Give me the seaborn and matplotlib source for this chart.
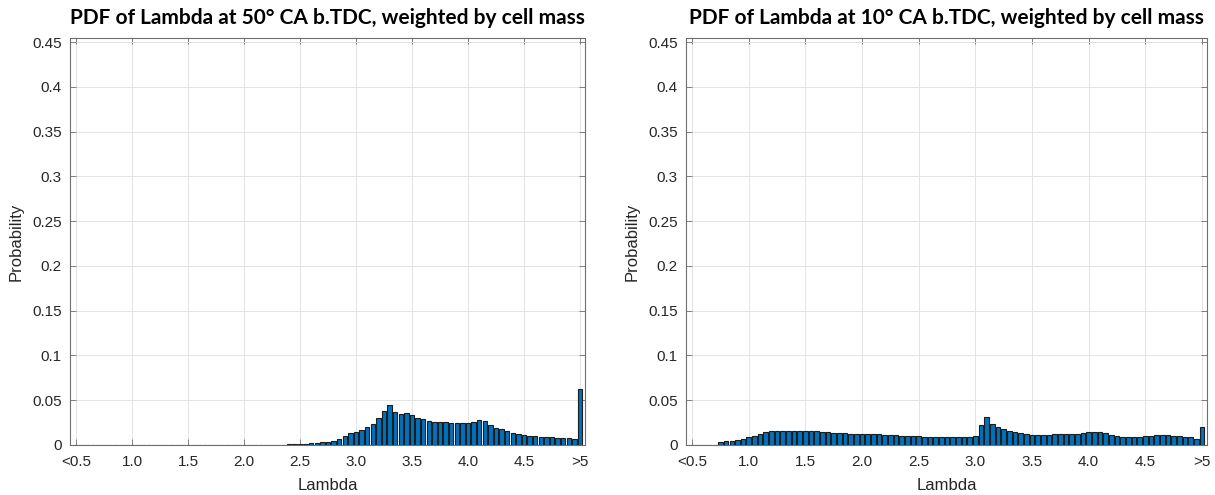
import numpy as np
import pandas as pd
import matplotlib
matplotlib.use("Agg")
import matplotlib.pyplot as plt
import seaborn as sns

# ---------------- data ----------------
lambda_bins = np.round(np.arange(0.5, 5.0001, 0.05), 2)   # bin centres, 0.5 = "<0.5", 5.0 = ">5"

prob_50 = [
    0.0,
    0.0001, 0.0001, 0.0001, 0.0001, 0.0001, 0.0001, 0.0001, 0.0001, 0.0001, 0.0001,
    0.0001, 0.0001, 0.0001, 0.0001, 0.0001, 0.0001, 0.0001, 0.0001, 0.0001, 0.0001,
    0.0001, 0.0001, 0.0001, 0.0001, 0.0001, 0.0001, 0.0001, 0.0001, 0.0001, 0.0001,
    0.0002, 0.0002, 0.0003, 0.0003, 0.0004, 0.0005, 0.0005, 0.0006, 0.0007, 0.0008,
    0.0012, 0.0018, 0.0024, 0.0030, 0.0038, 0.0050, 0.0068, 0.0105, 0.0130, 0.0150,
    0.0170, 0.0196, 0.0240, 0.0297, 0.0376, 0.0450, 0.0365, 0.0350, 0.0360, 0.0330,
    0.0305, 0.0285, 0.0265, 0.0255, 0.0253, 0.0252, 0.0245, 0.0244, 0.0244, 0.0248,
    0.0260, 0.0278, 0.0265, 0.0228, 0.0195, 0.0175, 0.0152, 0.0135, 0.0124, 0.0115,
    0.0105, 0.0098, 0.0092, 0.0088, 0.0085, 0.0079, 0.0076, 0.0073, 0.0070, 0.0620,
]

prob_10 = [
    0.0,
    0.0000, 0.0001, 0.0002, 0.0005, 0.0030, 0.0041, 0.0048, 0.0053, 0.0067, 0.0085,
    0.0104, 0.0122, 0.0140, 0.0151, 0.0156, 0.0157, 0.0158, 0.0158, 0.0158, 0.0157,
    0.0155, 0.0152, 0.0147, 0.0142, 0.0137, 0.0133, 0.0130, 0.0127, 0.0125, 0.0123,
    0.0122, 0.0120, 0.0118, 0.0115, 0.0111, 0.0108, 0.0105, 0.0103, 0.0100, 0.0095,
    0.0092, 0.0090, 0.0089, 0.0088, 0.0087, 0.0087, 0.0086, 0.0086, 0.0088, 0.0104,
    0.0218, 0.0310, 0.0232, 0.0197, 0.0175, 0.0154, 0.0140, 0.0129, 0.0118, 0.0112,
    0.0111, 0.0114, 0.0117, 0.0118, 0.0118, 0.0118, 0.0119, 0.0122, 0.0130, 0.0140,
    0.0143, 0.0143, 0.0132, 0.0115, 0.0100, 0.0094, 0.0093, 0.0093, 0.0093, 0.0097,
    0.0101, 0.0108, 0.0115, 0.0108, 0.0101, 0.0099, 0.0093, 0.0087, 0.0066, 0.0200,
]

titles = ["PDF of Lambda at 50° CA b.TDC, weighted by cell mass",
          "PDF of Lambda at 10° CA b.TDC, weighted by cell mass"]
x_ticks = [0.5, 1.0, 1.5, 2.0, 2.5, 3.0, 3.5, 4.0, 4.5, 5.0]
x_tick_labels = ["<0.5", "1.0", "1.5", "2.0", "2.5", "3.0", "3.5", "4.0", "4.5", ">5"]
y_ticks = [0, 0.05, 0.1, 0.15, 0.2, 0.25, 0.3, 0.35, 0.4, 0.45]
y_tick_labels = ["0", "0.05", "0.1", "0.15", "0.2", "0.25", "0.3", "0.35", "0.4", "0.45"]

# ---------------- style ----------------
sns.set_theme(style="whitegrid")
plt.rcParams["font.family"] = ["Liberation Sans", "DejaVu Sans"]

BAR = "#0072BD"
EDGE = "#1c1c1c"
AXC = "#262626"

fig = plt.figure(figsize=(12.15, 4.95), dpi=100)
W, H = 1215, 495
top, bottom = 38, 445
ax1 = fig.add_axes([70 / W, (H - bottom) / H, 515 / W, (bottom - top) / H])
ax2 = fig.add_axes([686 / W, (H - bottom) / H, 521 / W, (bottom - top) / H])

for ax, vals, title in [(ax1, prob_50, titles[0]), (ax2, prob_10, titles[1])]:
    df = pd.DataFrame({"Lambda": lambda_bins, "Probability": vals})
    sns.histplot(data=df, x="Lambda", weights="Probability", binwidth=0.05,
                 binrange=(0.475, 5.025), shrink=0.8,
                 color=BAR, edgecolor=EDGE, linewidth=0.8, alpha=1.0, ax=ax)
    ax.set_xlim(0.446, 5.045)
    ax.set_ylim(0, 0.4545)
    ax.set_xticks(x_ticks)
    ax.set_xticklabels(x_tick_labels)
    ax.set_yticks(y_ticks)
    ax.set_yticklabels(y_tick_labels)
    ax.set_facecolor("white")
    ax.grid(True, color="#e3e3e3", linewidth=0.7)
    ax.set_axisbelow(True)
    for sp in ax.spines.values():
        sp.set_visible(True)
        sp.set_color("#6e6e6e")
        sp.set_linewidth(0.8)
    ax.tick_params(direction="in", top=True, right=True, bottom=True, left=True,
                   length=4, width=0.6, color="#6e6e6e", labelsize=11,
                   labelcolor=AXC)
    ax.tick_params(axis="x", pad=7)
    ax.tick_params(axis="y", pad=6)
    ax.set_xlabel("Lambda", fontsize=12, color=AXC, labelpad=7)
    ax.set_ylabel("Probability", fontsize=12, color=AXC, labelpad=6)
    ax.set_title(title, fontsize=15, fontweight="bold", family=["Lato", "DejaVu Sans"],
                 color="black", pad=10)

fig.savefig("out.png", dpi=100)
